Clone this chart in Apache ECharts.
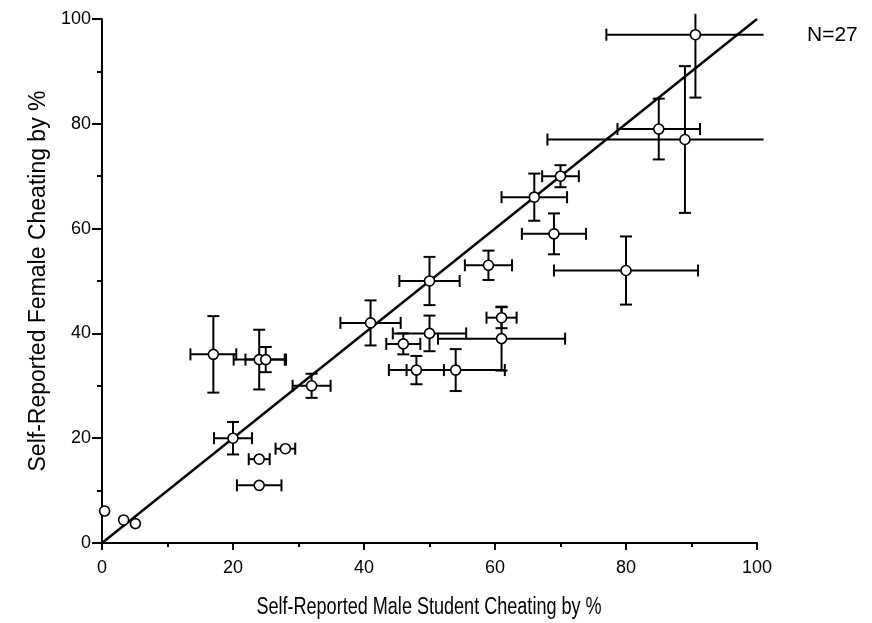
<!DOCTYPE html>
<html>
<head>
<meta charset="utf-8">
<script src="https://cdn.jsdelivr.net/npm/echarts@6/dist/echarts.min.js"></script>
<style>
  html, body { margin: 0; padding: 0; background: #fff; }
  #chart { width: 872px; height: 623px; }
</style>
</head>
<body>
<div id="chart"></div>
<script>
// Self-reported cheating by institution: male rate (x) vs female rate (y), with error bars
var maleRate   = [90.6, 89, 85, 70, 66, 69, 80, 59, 50, 61, 61, 50, 46, 48, 54, 41, 32, 20, 28, 24, 24, 0.4, 3.3, 5.1, 17, 24, 25];
var femaleRate = [97, 77, 79, 70, 66, 59, 52, 53, 50, 43, 39, 40, 38, 33, 33, 42, 30, 20, 18, 16, 11, 6.1, 4.4, 3.7, 36, 35, 35];
var maleErr    = [13.6, 21, 6.3, 2.8, 5, 4.9, 11, 3.6, 4.6, 2.3, 9.7, 5.6, 2.6, 4.2, 7.5, 4.6, 2.9, 2.9, 1.5, 1.6, 3.4, 0.5, 0.8, 0.8, 3.5, 3.9, 3.1];
var femaleErr  = [12, 14, 5.8, 2.1, 4.5, 3.9, 6.5, 2.8, 4.6, 2, 6.1, 3.4, 2, 2.7, 4, 4.3, 2.3, 3.1, 0.8, 0.8, 1, 0.5, 0.6, 0.6, 7.3, 5.7, 2.4];
var xTicks = [0, 20, 40, 60, 80, 100];
var yTicks = [0, 20, 40, 60, 80, 100];
var identityLine = [0, 100];
var xTitle = 'Self-Reported Male Student Cheating by %';
var yTitle = 'Self-Reported Female Cheating by %';
var sampleLabel = 'N=27';

var FONT = '"Liberation Sans", Arial, Helvetica, sans-serif';
var barLimit = 101;   // bars running past the frame stop here without a cap

var points = maleRate.map(function (x, i) {
  return [x, femaleRate[i], maleErr[i], femaleErr[i]];
});

function renderErrorBar(params, api) {
  var x = api.value(0), y = api.value(1), ex = api.value(2), ey = api.value(3);
  var x0 = Math.max(x - ex, 0), x1 = Math.min(x + ex, barLimit);
  var y0 = Math.max(y - ey, 0), y1 = Math.min(y + ey, barLimit);
  var c = api.coord([x, y]);
  var pl = api.coord([x0, y]), pr = api.coord([x1, y]);
  var pb = api.coord([x, y0]), pt = api.coord([x, y1]);
  var cap = 6, r = 5.5;
  var style = { stroke: '#000', lineWidth: 2, fill: null };
  var kids = [
    { type: 'line', shape: { x1: pl[0], y1: c[1], x2: pr[0], y2: c[1] }, style: style },
    { type: 'line', shape: { x1: c[0], y1: pt[1], x2: c[0], y2: pb[1] }, style: style }
  ];
  function hCap(px, clipped) {
    if (clipped || Math.abs(px - c[0]) < r) return;
    kids.push({ type: 'line', shape: { x1: px, y1: c[1] - cap, x2: px, y2: c[1] + cap }, style: style });
  }
  function vCap(py, clipped) {
    if (clipped || Math.abs(py - c[1]) < r) return;
    kids.push({ type: 'line', shape: { x1: c[0] - cap, y1: py, x2: c[0] + cap, y2: py }, style: style });
  }
  hCap(pl[0], x - ex < 0);
  hCap(pr[0], x + ex > barLimit);
  vCap(pb[1], y - ey < 0);
  vCap(pt[1], y + ey > barLimit);
  return { type: 'group', children: kids };
}

var chart = echarts.init(document.getElementById('chart'), null, { renderer: 'canvas' });

var axisCommon = {
  type: 'value',
  min: 0,
  max: 100,
  interval: 20,
  axisLine: { show: true, onZero: false, lineStyle: { color: '#000', width: 2 } },
  splitLine: { show: false },
  minorTick: { show: true, splitNumber: 2, lineStyle: { color: '#000', width: 2 } },
  axisLabel: { color: '#000', fontFamily: FONT, fontSize: 18 }
};

chart.setOption({
  animation: false,
  backgroundColor: '#fff',
  grid: { left: 102, right: 115, top: 19, bottom: 80, containLabel: false },
  xAxis: echarts.util.merge({
    axisTick: { length: 7, lineStyle: { color: '#000', width: 2 } },
    minorTick: { length: 4 },
    axisLabel: {
      margin: 16,
      customValues: xTicks,
      formatter: function (v) { return String(v); }
    }
  }, axisCommon, false),
  yAxis: echarts.util.merge({
    name: yTitle,
    nameLocation: 'middle',
    nameGap: 36,
    nameTextStyle: { color: '#000', fontFamily: FONT, fontSize: 23 },
    axisTick: { length: 10, lineStyle: { color: '#000', width: 2 } },
    minorTick: { length: 5 },
    axisLabel: {
      margin: 11,
      customValues: yTicks,
      formatter: function (v) { return String(v); }
    }
  }, axisCommon, false),
  graphic: [
    {
      type: 'text',
      x: 429,
      y: 608,
      scaleX: 0.785,
      style: {
        text: xTitle, fill: '#000', font: '23px ' + FONT,
        align: 'center', verticalAlign: 'middle'
      }
    },
    {
      type: 'text',
      left: 807,
      top: 25,
      style: { text: sampleLabel, fill: '#000', font: '21px ' + FONT }
    }
  ],
  series: [
    {
      type: 'line',
      data: identityLine.map(function (v) { return [v, v]; }),
      symbol: 'none',
      lineStyle: { color: '#000', width: 2.5 },
      z: 2
    },
    {
      type: 'custom',
      data: points,
      renderItem: renderErrorBar,
      clip: false,
      z: 3
    },
    {
      type: 'scatter',
      data: points.map(function (p) { return [p[0], p[1]]; }),
      symbol: 'circle',
      symbolSize: 10,
      itemStyle: { color: '#fff', borderColor: '#000', borderWidth: 1.6, opacity: 1 },
      clip: false,
      z: 4
    }
  ]
});
</script>
</body>
</html>
